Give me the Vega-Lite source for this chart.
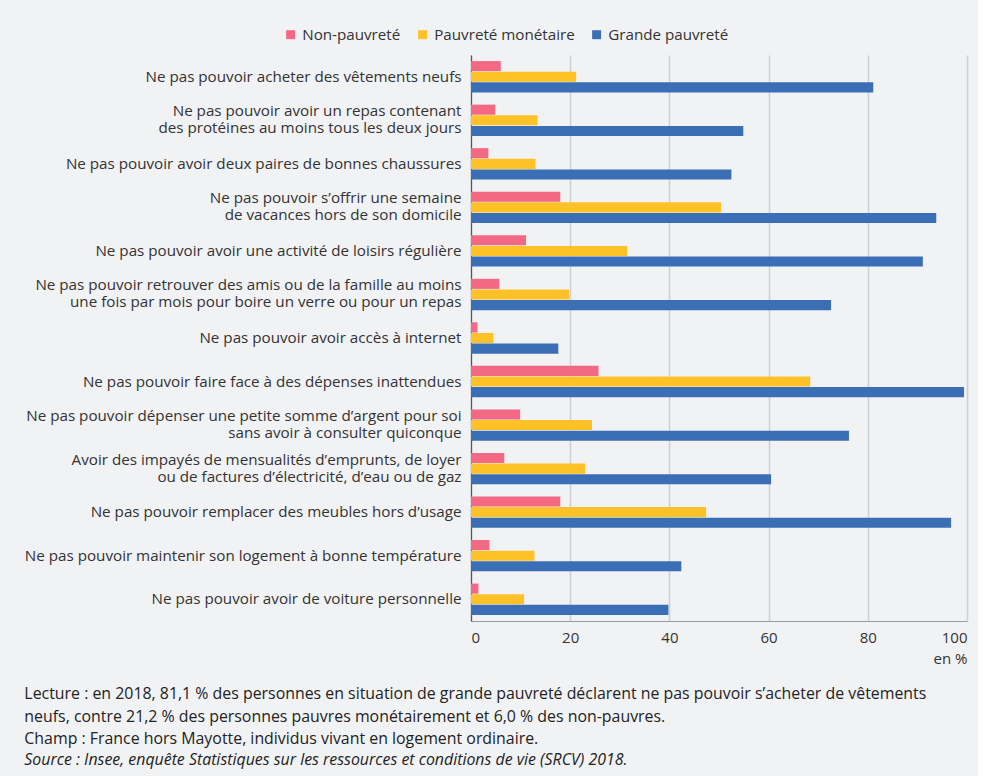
{
  "$schema": "https://vega.github.io/schema/vega-lite/v6.json",
  "width": 496,
  "height": 566,
  "padding": {"left": 24, "right": 11, "top": 27, "bottom": 8},
  "background": "#f1f2f4",
  "config": {"view": {"stroke": null}, "font": "Open Sans"},
  "title": {
    "text": [
      "Lecture : en 2018, 81,1 % des personnes en situation de grande pauvreté déclarent ne pas pouvoir s’acheter de vêtements",
      "neufs, contre 21,2 % des personnes pauvres monétairement et 6,0 % des non-pauvres.",
      "Champ : France hors Mayotte, individus vivant en logement ordinaire."
    ],
    "subtitle": "Source : Insee, enquête Statistiques sur les ressources et conditions de vie (SRCV) 2018.",
    "orient": "bottom",
    "anchor": "start",
    "frame": "bounds",
    "align": "left",
    "fontSize": 15.9,
    "fontWeight": "normal",
    "color": "#222222",
    "lineHeight": 22.5,
    "offset": 20,
    "subtitleFontSize": 15.9,
    "subtitleFontStyle": "italic",
    "subtitleColor": "#222222",
    "subtitlePadding": 5,
    "subtitleLineHeight": 22
  },
  "data": {
    "values": [
      {"item": "Ne pas pouvoir acheter des vêtements neufs", "serie": "Non-pauvreté", "value": 6.0},
      {"item": "Ne pas pouvoir acheter des vêtements neufs", "serie": "Pauvreté monétaire", "value": 21.2},
      {"item": "Ne pas pouvoir acheter des vêtements neufs", "serie": "Grande pauvreté", "value": 81.1},
      {"item": "Ne pas pouvoir avoir un repas contenant|des protéines au moins tous les deux jours", "serie": "Non-pauvreté", "value": 4.9},
      {"item": "Ne pas pouvoir avoir un repas contenant|des protéines au moins tous les deux jours", "serie": "Pauvreté monétaire", "value": 13.4},
      {"item": "Ne pas pouvoir avoir un repas contenant|des protéines au moins tous les deux jours", "serie": "Grande pauvreté", "value": 54.9},
      {"item": "Ne pas pouvoir avoir deux paires de bonnes chaussures", "serie": "Non-pauvreté", "value": 3.5},
      {"item": "Ne pas pouvoir avoir deux paires de bonnes chaussures", "serie": "Pauvreté monétaire", "value": 13.0},
      {"item": "Ne pas pouvoir avoir deux paires de bonnes chaussures", "serie": "Grande pauvreté", "value": 52.5},
      {"item": "Ne pas pouvoir s’offrir une semaine|de vacances hors de son domicile", "serie": "Non-pauvreté", "value": 18.0},
      {"item": "Ne pas pouvoir s’offrir une semaine|de vacances hors de son domicile", "serie": "Pauvreté monétaire", "value": 50.4},
      {"item": "Ne pas pouvoir s’offrir une semaine|de vacances hors de son domicile", "serie": "Grande pauvreté", "value": 93.8},
      {"item": "Ne pas pouvoir avoir une activité de loisirs régulière", "serie": "Non-pauvreté", "value": 11.1},
      {"item": "Ne pas pouvoir avoir une activité de loisirs régulière", "serie": "Pauvreté monétaire", "value": 31.5},
      {"item": "Ne pas pouvoir avoir une activité de loisirs régulière", "serie": "Grande pauvreté", "value": 91.1},
      {"item": "Ne pas pouvoir retrouver des amis ou de la famille au moins|une fois par mois pour boire un verre ou pour un repas", "serie": "Non-pauvreté", "value": 5.7},
      {"item": "Ne pas pouvoir retrouver des amis ou de la famille au moins|une fois par mois pour boire un verre ou pour un repas", "serie": "Pauvreté monétaire", "value": 19.8},
      {"item": "Ne pas pouvoir retrouver des amis ou de la famille au moins|une fois par mois pour boire un verre ou pour un repas", "serie": "Grande pauvreté", "value": 72.6},
      {"item": "Ne pas pouvoir avoir accès à internet", "serie": "Non-pauvreté", "value": 1.3},
      {"item": "Ne pas pouvoir avoir accès à internet", "serie": "Pauvreté monétaire", "value": 4.5},
      {"item": "Ne pas pouvoir avoir accès à internet", "serie": "Grande pauvreté", "value": 17.6},
      {"item": "Ne pas pouvoir faire face à des dépenses inattendues", "serie": "Non-pauvreté", "value": 25.7},
      {"item": "Ne pas pouvoir faire face à des dépenses inattendues", "serie": "Pauvreté monétaire", "value": 68.4},
      {"item": "Ne pas pouvoir faire face à des dépenses inattendues", "serie": "Grande pauvreté", "value": 99.4},
      {"item": "Ne pas pouvoir dépenser une petite somme d’argent pour soi|sans avoir à consulter quiconque", "serie": "Non-pauvreté", "value": 9.9},
      {"item": "Ne pas pouvoir dépenser une petite somme d’argent pour soi|sans avoir à consulter quiconque", "serie": "Pauvreté monétaire", "value": 24.4},
      {"item": "Ne pas pouvoir dépenser une petite somme d’argent pour soi|sans avoir à consulter quiconque", "serie": "Grande pauvreté", "value": 76.2},
      {"item": "Avoir des impayés de mensualités d’emprunts, de loyer|ou de factures d’électricité, d’eau ou de gaz", "serie": "Non-pauvreté", "value": 6.7},
      {"item": "Avoir des impayés de mensualités d’emprunts, de loyer|ou de factures d’électricité, d’eau ou de gaz", "serie": "Pauvreté monétaire", "value": 23.0},
      {"item": "Avoir des impayés de mensualités d’emprunts, de loyer|ou de factures d’électricité, d’eau ou de gaz", "serie": "Grande pauvreté", "value": 60.5},
      {"item": "Ne pas pouvoir remplacer des meubles hors d’usage", "serie": "Non-pauvreté", "value": 18.0},
      {"item": "Ne pas pouvoir remplacer des meubles hors d’usage", "serie": "Pauvreté monétaire", "value": 47.4},
      {"item": "Ne pas pouvoir remplacer des meubles hors d’usage", "serie": "Grande pauvreté", "value": 96.8},
      {"item": "Ne pas pouvoir maintenir son logement à bonne température", "serie": "Non-pauvreté", "value": 3.7},
      {"item": "Ne pas pouvoir maintenir son logement à bonne température", "serie": "Pauvreté monétaire", "value": 12.8},
      {"item": "Ne pas pouvoir maintenir son logement à bonne température", "serie": "Grande pauvreté", "value": 42.4},
      {"item": "Ne pas pouvoir avoir de voiture personnelle", "serie": "Non-pauvreté", "value": 1.5},
      {"item": "Ne pas pouvoir avoir de voiture personnelle", "serie": "Pauvreté monétaire", "value": 10.7},
      {"item": "Ne pas pouvoir avoir de voiture personnelle", "serie": "Grande pauvreté", "value": 39.8}
    ]
  },
  "mark": {"type": "bar"},
  "encoding": {
    "y": {
      "field": "item",
      "type": "nominal",
      "sort": null,
      "scale": {"paddingInner": 0.28, "paddingOuter": 0.14},
      "axis": {
        "title": null,
        "labelExpr": "split(datum.label, '|')",
        "labelOffset": {"expr": "indexof(datum.value, '|') >= 0 ? -9 : 0"},
        "labelFontSize": 15.2,
        "labelColor": "#333333",
        "labelPadding": 10,
        "labelLineHeight": 17,
        "labelLimit": 600,
        "ticks": false,
        "domainColor": "#555555",
        "domainWidth": 1.2,
        "grid": false
      }
    },
    "yOffset": {
      "field": "serie",
      "type": "nominal",
      "sort": ["Non-pauvreté", "Pauvreté monétaire", "Grande pauvreté"],
      "scale": {"paddingInner": 0.05}
    },
    "x": {
      "field": "value",
      "type": "quantitative",
      "scale": {"domain": [0, 100], "nice": false},
      "axis": {
        "values": [0, 20, 40, 60, 80, 100],
        "title": "en %",
        "titleAnchor": "end",
        "titleAlign": "right",
        "titleFontWeight": "normal",
        "titleFontSize": 15,
        "titleColor": "#333333",
        "titlePadding": 6,
        "labelFontSize": 15,
        "labelColor": "#333333",
        "labelPadding": 9,
        "ticks": false,
        "domainColor": "#9a9a9a",
        "gridColor": "#cfd0d3",
        "gridWidth": 1.5
      }
    },
    "color": {
      "field": "serie",
      "type": "nominal",
      "sort": ["Non-pauvreté", "Pauvreté monétaire", "Grande pauvreté"],
      "scale": {
        "domain": ["Non-pauvreté", "Pauvreté monétaire", "Grande pauvreté"],
        "range": ["#f36882", "#ffc128", "#3a6fb6"]
      },
      "legend": {
        "orient": "none",
        "legendX": -188,
        "legendY": -28,
        "direction": "horizontal",
        "title": null,
        "symbolType": "square",
        "symbolSize": 80,
        "symbolStrokeWidth": 0,
        "labelFontSize": 15.2,
        "labelColor": "#333333",
        "columnPadding": 14,
        "labelOffset": 4
      }
    }
  }
}
